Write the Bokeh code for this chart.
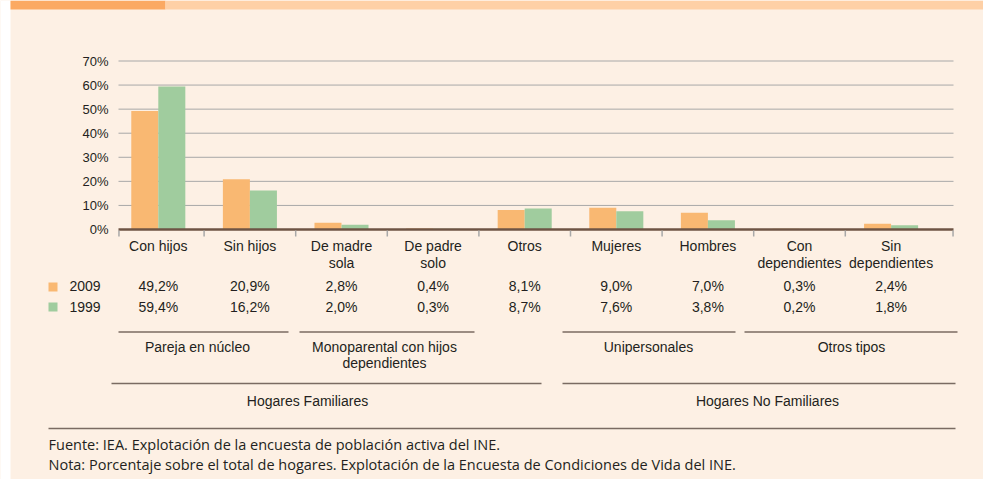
from bokeh.plotting import figure
from bokeh.models import ColumnDataSource, Range1d
from bokeh.core.properties import value
from bokeh.transform import dodge
from bokeh.embed import file_html
from bokeh.resources import INLINE

# ---------------- data ----------------
categories = ["Con hijos", "Sin hijos", "De madre\nsola", "De padre\nsolo", "Otros",
              "Mujeres", "Hombres", "Con\ndependientes", "Sin\ndependientes"]
v2009 = [49.2, 20.9, 2.8, 0.4, 8.1, 9.0, 7.0, 0.3, 2.4]
v1999 = [59.4, 16.2, 2.0, 0.3, 8.7, 7.6, 3.8, 0.2, 1.8]
series_names = ["2009", "1999"]
y_ticks = [0, 10, 20, 30, 40, 50, 60, 70]
subgroups = ["Pareja en núcleo", "Monoparental con hijos\ndependientes", "Unipersonales", "Otros tipos"]
groups = ["Hogares Familiares", "Hogares No Familiares"]
footer = ["Fuente: IEA. Explotación de la encuesta de población activa del INE.",
          "Nota: Porcentaje sobre el total de hogares. Explotación de la Encuesta de Condiciones de Vida del INE."]

# ---------------- layout / style (page pixels) ----------------
W, H = 983, 479
BG = "#fdf0e4"
C2009 = "#f9b872"
C1999 = "#a0cc9e"
TXT = "#231f20"
RULE = "#7a6b62"
FONT = "Liberation Sans"
FOOT_FONT = "Open Sans"
PLOT_L, PLOT_R = 118, 953          # plot area horizontal extent
Y0_PX, Y70_PX = 229, 60.5          # pixel rows of 0% and 70%
CAT0_PX, CAT_STEP = 157.8, 91.6    # centre of first category, category pitch
BAR_W = 0.295                      # bar width in category units

px_per_pct = (Y0_PX - Y70_PX) / 70.0


def cat(px):
    return (px - CAT0_PX) / CAT_STEP


p = figure(width=W, height=H, x_range=Range1d(0, W), y_range=Range1d(H, 0),
           x_axis_location=None, y_axis_location=None,
           output_backend="svg", toolbar_location=None, min_border=0,
           background_fill_color=BG, border_fill_color=BG, outline_line_color=None)
p.xgrid.visible = False
p.ygrid.visible = False
p.extra_x_ranges = {"cat": Range1d(cat(0), cat(W))}
p.extra_y_ranges = {"pct": Range1d((Y0_PX - H) / px_per_pct, Y0_PX / px_per_pct)}

# frame decorations
p.quad(left=[0], right=[10], top=[0], bottom=[H], fill_color="white", line_color=None)
p.quad(left=[10], right=[165], top=[0], bottom=[9], fill_color="#fba962", line_color=None)
p.quad(left=[165], right=[W], top=[0], bottom=[9], fill_color="#fed0a6", line_color=None)

# gridlines
p.segment(x0=PLOT_L, x1=PLOT_R, y0=y_ticks[1:], y1=y_ticks[1:], y_range_name="pct",
          line_color="#a8a8a8", line_width=1)
# y tick labels
p.text(x=PLOT_L - 10, y=y_ticks, y_range_name="pct", text=[f"{t}%" for t in y_ticks],
       text_align="right", text_baseline="middle", text_font=value(FONT),
       text_font_size=value("13px"), text_color=TXT)

idx = list(range(len(categories)))
line1 = [c.split("\n")[0] for c in categories]
line2 = [c.split("\n")[1] if "\n" in c else "" for c in categories]
src = ColumnDataSource(dict(idx=idx, v2009=v2009, v1999=v1999, line1=line1, line2=line2,
                            t2009=[f"{v:.1f}%".replace(".", ",") for v in v2009],
                            t1999=[f"{v:.1f}%".replace(".", ",") for v in v1999]))

# bars
p.vbar(x=dodge("idx", -BAR_W / 2), top="v2009", bottom=0, width=BAR_W, source=src,
       x_range_name="cat", y_range_name="pct", fill_color=C2009, line_color=None)
p.vbar(x=dodge("idx", BAR_W / 2), top="v1999", bottom=0, width=BAR_W, source=src,
       x_range_name="cat", y_range_name="pct", fill_color=C1999, line_color=None)

# category axis: baseline and separators
p.segment(x0=[PLOT_L], x1=[PLOT_R], y0=[0], y1=[0], y_range_name="pct",
          line_color="#6e5444", line_width=2.5)
seps = [cat(PLOT_L) + 0.005] + [i + 0.5 for i in idx[:-1]] + [cat(PLOT_R) - 0.005]
p.segment(x0=seps, x1=seps, y0=[Y0_PX + 1] * len(seps), y1=[Y0_PX + 7] * len(seps),
          x_range_name="cat", line_color="#a8a8a8", line_width=1.5)


def row(field, y, size="14px"):
    p.text(x="idx", y=y, text=field, source=src, x_range_name="cat",
           text_align="center", text_baseline="middle", text_font=value(FONT),
           text_font_size=value(size), text_color=TXT)


row("line1", 245)
row("line2", 262.5)
row("t2009", 285.5)
row("t1999", 306)

# legend
for name, col, top, yc in zip(series_names, [C2009, C1999], [282, 302], [285.5, 306]):
    p.quad(left=[48], right=[57], top=[top], bottom=[top + 9], fill_color=col, line_color=None)
    p.text(x=[69], y=[yc], text=[name], text_baseline="middle",
           text_font=value(FONT), text_font_size=value("14px"), text_color=TXT)


def hline(xa, xb, y, w=1.5):
    p.segment(x0=[xa], x1=[xb], y0=[y], y1=[y], line_color=RULE, line_width=w)


def txt(s, x, y, align="center", size="14px", font=FONT):
    p.text(x=[x], y=[y], text=[s], text_align=align, text_baseline="middle",
           text_font=value(font), text_font_size=value(size), text_color=TXT)


# subgroup brackets
sub_spans = [(118, 288), (299, 474), (562, 735), (744, 957)]
sub_centers = [197, 384, 648, 851]
for name, (a, b), c in zip(subgroups, sub_spans, sub_centers):
    hline(a, b, 331.5)
    for k, part in enumerate(name.split("\n")):
        txt(part, c, 346 + 16 * k, size="14px")

grp_spans = [(111, 541), (562, 955)]
grp_centers = [307, 767]
for name, (a, b), c in zip(groups, grp_spans, grp_centers):
    hline(a, b, 383)
    txt(name, c, 400.5, size="14px")

hline(48, 955, 428)
txt(footer[0], 48, 444, align="left", size="14.5px", font=FOOT_FONT)
txt(footer[1], 48, 464, align="left", size="14.5px", font=FOOT_FONT)

open("out.html", "w").write(file_html(p, INLINE))
